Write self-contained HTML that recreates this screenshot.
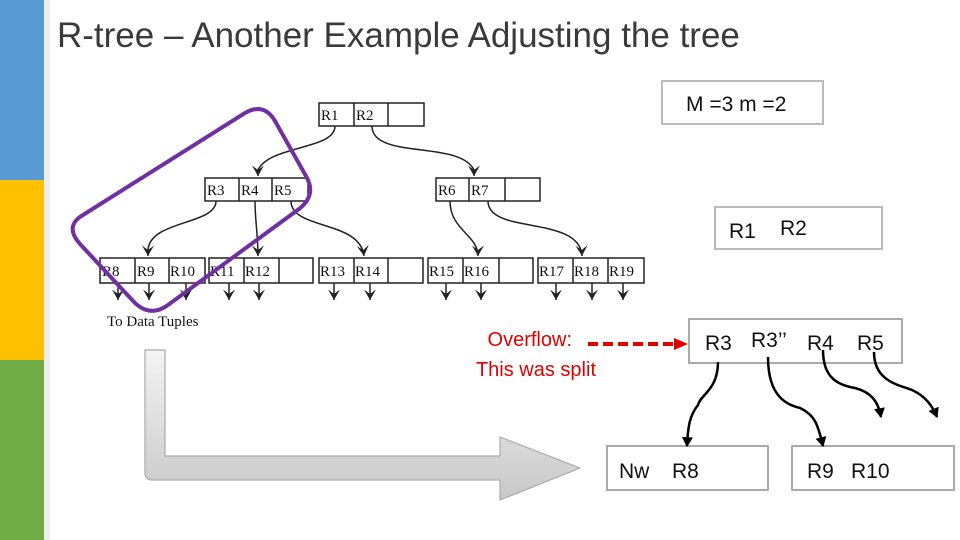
<!DOCTYPE html>
<html><head><meta charset="utf-8"><style>
html,body{margin:0;padding:0;width:960px;height:540px;overflow:hidden;background:#fff;font-family:"Liberation Sans",sans-serif}
</style></head><body>
<svg width="960" height="540" viewBox="0 0 960 540" xmlns="http://www.w3.org/2000/svg">
<defs>
<linearGradient id="g" x1="0" y1="0" x2="0" y2="1"><stop offset="0" stop-color="#f4f4f4"/><stop offset="1" stop-color="#c8c8c8"/></linearGradient>
<marker id="a" markerWidth="8" markerHeight="8" refX="7" refY="4" orient="auto" viewBox="0 0 8 8"><path d="M0,0 L7,4 L0,8 L3,4z" fill="#222"/></marker>
<marker id="b" markerWidth="11" markerHeight="11" refX="9" refY="5" orient="auto" viewBox="0 0 10 10" markerUnits="userSpaceOnUse"><path d="M1,0 L10,5 L1,10z" fill="#000"/></marker>
</defs>
<rect x="0" y="0" width="50" height="540" fill="#eee"/>
<rect x="0" y="0" width="44" height="180" fill="#5b9bd5"/>
<rect x="0" y="180" width="44" height="180" fill="#ffc000"/>
<rect x="0" y="360" width="44" height="180" fill="#70ad47"/>
<text x="57" y="47" font-size="35" fill="#3a3a3a">R-tree – Another Example Adjusting the tree</text>

<g font-family="Liberation Serif,serif" font-size="15" fill="#111" stroke="#222" stroke-width="1.5">
<rect x="319" y="103" width="105" height="23" fill="none"/><line x1="354" y1="103" x2="354" y2="126"/><line x1="388" y1="103" x2="388" y2="126"/>
<rect x="205" y="178" width="103" height="23" fill="none"/><line x1="239" y1="178" x2="239" y2="201"/><line x1="272" y1="178" x2="272" y2="201"/>
<rect x="436" y="178" width="104" height="23" fill="none"/><line x1="469" y1="178" x2="469" y2="201"/><line x1="505" y1="178" x2="505" y2="201"/>
<rect x="100" y="258" width="105" height="25" fill="none"/><line x1="135" y1="258" x2="135" y2="283"/><line x1="169" y1="258" x2="169" y2="283"/>
<rect x="209" y="258" width="104" height="25" fill="none"/><line x1="244" y1="258" x2="244" y2="283"/><line x1="279" y1="258" x2="279" y2="283"/>
<rect x="319" y="258" width="104" height="25" fill="none"/><line x1="354" y1="258" x2="354" y2="283"/><line x1="388" y1="258" x2="388" y2="283"/>
<rect x="428" y="258" width="105" height="25" fill="none"/><line x1="463" y1="258" x2="463" y2="283"/><line x1="499" y1="258" x2="499" y2="283"/>
<rect x="538" y="258" width="106" height="25" fill="none"/><line x1="573" y1="258" x2="573" y2="283"/><line x1="608" y1="258" x2="608" y2="283"/>
<g stroke="none">
<text x="321" y="120">R1</text><text x="356" y="120">R2</text>
<text x="207" y="195">R3</text><text x="241" y="195">R4</text><text x="274" y="195">R5</text>
<text x="438" y="195">R6</text><text x="471" y="195">R7</text>
<text x="102" y="276">R8</text><text x="137" y="276">R9</text><text x="170" y="276">R10</text>
<text x="210" y="276">R11</text><text x="245" y="276">R12</text>
<text x="320" y="276">R13</text><text x="355" y="276">R14</text>
<text x="429" y="276">R15</text><text x="464" y="276">R16</text>
<text x="539" y="276">R17</text><text x="574" y="276">R18</text><text x="609" y="276">R19</text>
<text x="107" y="326" font-size="15">To Data Tuples</text>
</g>
<g fill="none" stroke="#222" stroke-width="1.5" marker-end="url(#a)">
<path d="M335,126 C335,150 270,145 258,170 L258,176"/>
<path d="M372,126 C372,160 460,140 474,170 L474,176"/>
<path d="M216,201 C216,225 150,220 148,250 L148,256"/>
<path d="M255,201 C255,220 258,235 258,256"/>
<path d="M291,201 C291,230 360,220 364,256"/>
<path d="M450,201 C450,230 478,235 478,256"/>
<path d="M488,201 C488,235 580,215 582,256"/>
<path d="M118,283 L118,300"/><path d="M149,283 L149,300"/><path d="M186,283 L186,300"/>
<path d="M229,283 L229,300"/><path d="M259,283 L259,300"/>
<path d="M334,283 L334,300"/><path d="M370,283 L370,300"/>
<path d="M446,283 L446,300"/><path d="M481,283 L481,300"/>
<path d="M556,283 L556,300"/><path d="M592,283 L592,300"/><path d="M623,283 L623,300"/>
</g>
</g>
<path d="M83,215 L245,113 Q264,102 275,121 L306,176 Q317,195 299,209 L168,305 Q150,318 134,302 L80,244 Q64,226 83,215 Z" fill="none" stroke="#7030a0" stroke-width="4"/>

<path d="M145,350 L165,350 L165,456 L500,456 L500,437 L580,468 L500,500 L500,480 L152,480 Q145,480 145,473 Z" fill="url(#g)" stroke="#aaa" stroke-width="1.2"/>

<rect x="662" y="81" width="161" height="43" fill="#fff" stroke="#bbb" stroke-width="2"/>
<text x="686" y="111" font-size="21" fill="#111">M =3 m =2</text>
<rect x="715" y="207" width="167" height="42" fill="#fff" stroke="#bbb" stroke-width="2"/>
<text x="729" y="238" font-size="21" fill="#111">R1</text><text x="780" y="235" font-size="21" fill="#111">R2</text>
<rect x="689" y="319" width="213" height="44" fill="#fff" stroke="#aaa" stroke-width="2"/>
<text x="705" y="350" font-size="21" fill="#111">R3</text>
<text x="751" y="347" font-size="21" fill="#111">R3’’</text>
<text x="807" y="350" font-size="21" fill="#111">R4</text>
<text x="857" y="350" font-size="21" fill="#111">R5</text>
<rect x="607" y="446" width="161" height="44" fill="#fff" stroke="#aaa" stroke-width="2"/>
<text x="619" y="478" font-size="21" fill="#111">Nw</text><text x="672" y="478" font-size="21" fill="#111">R8</text>
<rect x="792" y="446" width="162" height="44" fill="#fff" stroke="#aaa" stroke-width="2"/>
<text x="807" y="478" font-size="21" fill="#111">R9</text><text x="851" y="478" font-size="21" fill="#111">R10</text>
<g fill="none" stroke="#000" stroke-width="2.5" marker-end="url(#b)">
<path d="M718,362 C718,390 700,395 698,405 C690,415 688,425 687,446"/>
<path d="M768,357 C768,400 790,405 800,408 C815,415 818,425 823,446"/>
<path d="M823,350 C823,380 840,385 855,388 C870,392 878,400 881,417"/>
<path d="M874,352 C874,382 900,385 912,390 C925,396 932,405 937,417"/>
</g>
<text x="572" y="346" font-size="20" fill="#e00000" text-anchor="end">Overflow:</text>
<text x="596" y="376" font-size="20" fill="#e00000" text-anchor="end">This was split</text>
<line x1="588" y1="344" x2="675" y2="344" stroke="#e00000" stroke-width="4" stroke-dasharray="10,5"/>
<path d="M674,338 L688,344 L674,350z" fill="#e00000"/>
</svg>
</body></html>
